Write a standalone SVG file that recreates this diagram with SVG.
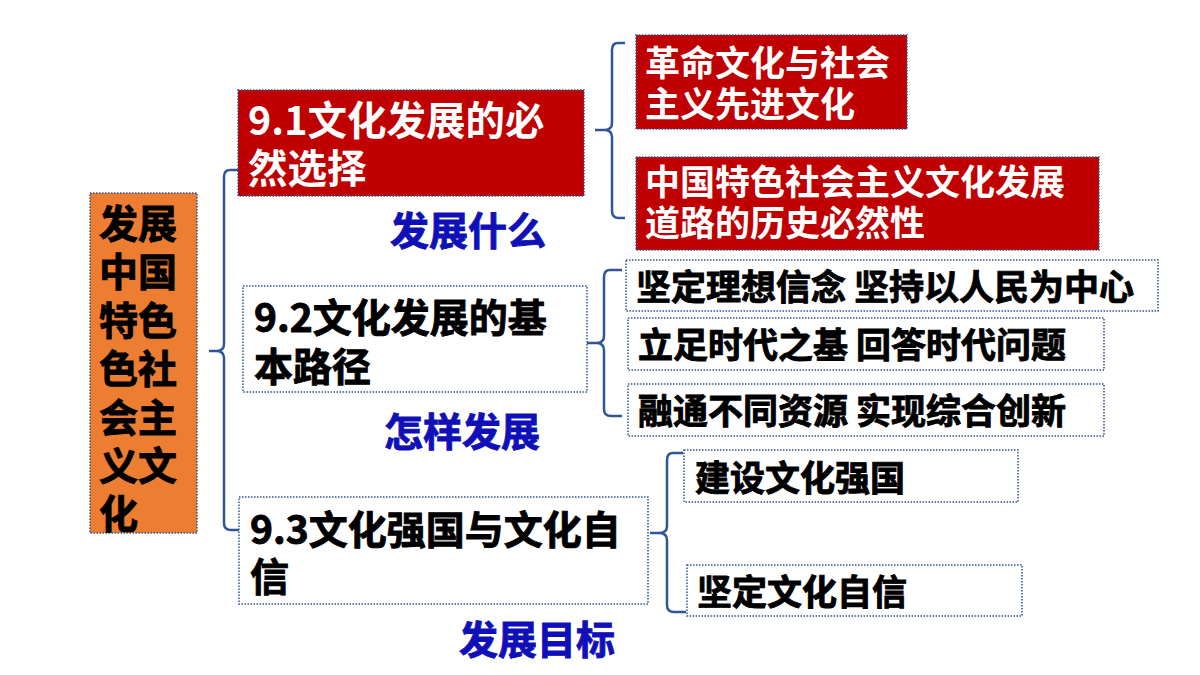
<svg xmlns="http://www.w3.org/2000/svg" width="1200" height="675" viewBox="0 0 1200 675">
<style>
text { font-family: "Noto Sans CJK SC", "Liberation Sans", sans-serif; font-weight: 700; }
.box { stroke: #2F5597; stroke-width: 1.5; stroke-dasharray: 1.5 1.5; }
.red { fill: #C00000; }
.wht { fill: #FFFFFF; }
.org { fill: #ED7D31; }
.tw { fill: #FFFFFF; }
.tk { fill: #000000; stroke: #000000; stroke-width: 0.9; }
.tb { fill: #1010B8; stroke: #1010B8; stroke-width: 0.9; font-size: 39px; }
.br { fill: none; stroke: #2F5597; stroke-width: 2.5; stroke-linejoin: round; }
</style>
<rect width="1200" height="675" fill="#FFFFFF"/>

<g id="connectors">
  <path class="br" d="M238,170 H230 Q224,170 224,177 V344 Q224,351 216,351 H209 M216,351 Q224,351 224,358 V523 Q224,530 231,530 H239"/>
  <path class="br" d="M625,43 H618 Q612,43 612,50 V123 Q612,130 604,130 H595 M604,130 Q612,130 612,137 V211 Q612,218 619,218 H625"/>
  <path class="br" d="M622,270 H610 Q604,270 604,277 V336 Q604,343 596,343 H587 M596,343 Q604,343 604,350 V409 Q604,416 611,416 H622"/>
  <path class="br" d="M683,453 H673 Q667,453 667,460 V526 Q667,533 659,533 H650 M659,533 Q667,533 667,540 V605 Q667,612 674,612 H686"/>
</g>

<g id="root">
  <rect class="box org" x="90" y="193" width="107" height="340"/>
  <text class="tk" font-size="39"><tspan x="99" y="238">发展</tspan><tspan x="99" y="286">中国</tspan><tspan x="99" y="335">特色</tspan><tspan x="99" y="383">色社</tspan><tspan x="99" y="432">会主</tspan><tspan x="99" y="480">义文</tspan><tspan x="99" y="528">化</tspan></text>
</g>

<g id="n91">
  <rect class="box red" x="238" y="90" width="346" height="106"/>
  <text class="tw" font-size="39.5"><tspan x="248" y="135">9.1文化发展的必</tspan><tspan x="248" y="183">然选择</tspan></text>
</g>
<g id="label1"><text class="tb" x="390" y="245">发展什么</text></g>

<g id="n911">
  <rect class="box red" x="636" y="35" width="271" height="94"/>
  <text class="tw" font-size="35"><tspan x="645" y="76">革命文化与社会</tspan><tspan x="645" y="117">主义先进文化</tspan></text>
</g>
<g id="n912">
  <rect class="box red" x="636" y="157" width="463" height="93"/>
  <text class="tw" font-size="35"><tspan x="645" y="195">中国特色社会主义文化发展</tspan><tspan x="645" y="236">道路的历史必然性</tspan></text>
</g>

<g id="n92">
  <rect class="box wht" x="243" y="286" width="344" height="106"/>
  <text class="tk" font-size="39"><tspan x="254" y="332">9.2文化发展的基</tspan><tspan x="254" y="381">本路径</tspan></text>
</g>
<g id="label2"><text class="tb" x="384" y="446">怎样发展</text></g>

<g id="n921">
  <rect class="box wht" x="626" y="260" width="532" height="51"/>
  <text class="tk" font-size="35" x="636" y="300">坚定理想信念 坚持以人民为中心</text>
</g>
<g id="n922">
  <rect class="box wht" x="628" y="318" width="476" height="52"/>
  <text class="tk" font-size="35" x="638" y="358">立足时代之基 回答时代问题</text>
</g>
<g id="n923">
  <rect class="box wht" x="628" y="384" width="476" height="52"/>
  <text class="tk" font-size="35" x="638" y="424">融通不同资源 实现综合创新</text>
</g>

<g id="n93">
  <rect class="box wht" x="239" y="497" width="409" height="107"/>
  <text class="tk" font-size="39"><tspan x="250" y="544">9.3文化强国与文化自</tspan><tspan x="250" y="591">信</tspan></text>
</g>
<g id="label3"><text class="tb" x="459" y="654">发展目标</text></g>

<g id="n931">
  <rect class="box wht" x="684" y="450" width="334" height="52"/>
  <text class="tk" font-size="35" x="695" y="491">建设文化强国</text>
</g>
<g id="n932">
  <rect class="box wht" x="687" y="565" width="335" height="51"/>
  <text class="tk" font-size="35" x="697" y="605">坚定文化自信</text>
</g>
</svg>
